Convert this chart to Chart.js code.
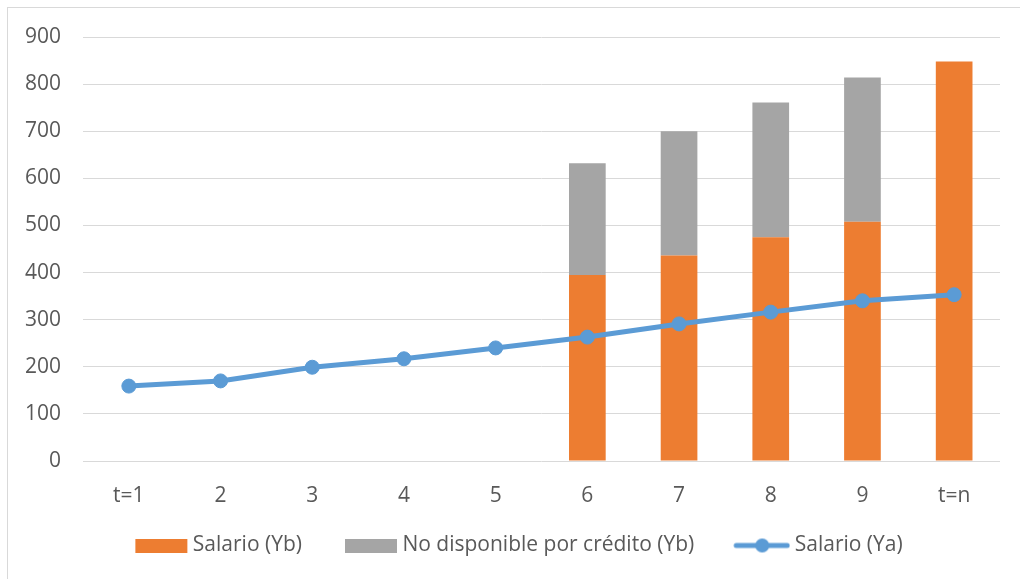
<!DOCTYPE html>
<html>
<head>
<meta charset="utf-8">
<script src="https://cdn.jsdelivr.net/npm/chart.js@4.4.1/dist/chart.umd.min.js"></script>
<style>
  body { margin: 0; background: #fff; }
  #wrap { position: relative; width: 1020px; height: 579px; }
  #frame { position: absolute; left: 7px; top: 7px; width: 1020px; height: 580px;
           border: 1px solid #d9d9d9; pointer-events: none; }
</style>
</head>
<body>
<div id="wrap">
  <canvas id="salarioChart"></canvas>
  <div id="frame"></div>
</div>
<script>
/*--Data--*/
var categories = ['t=1', '2', '3', '4', '5', '6', '7', '8', '9', 't=n'];
var salarioYb = [null, null, null, null, null, 395, 436, 475, 508, 848];
var noDisponible = [null, null, null, null, null, 237, 264, 286, 306, null];
var salarioYa = [159, 170, 199, 217, 240, 263, 291, 316, 340, 353];
var yTicks = [0, 100, 200, 300, 400, 500, 600, 700, 800, 900];
/*--------*/

var orange = '#ED7D31';
var gray = '#A5A5A5';
var blue = '#5B9BD5';
var textColor = '#595959';
var gridColor = '#D9D9D9';

// legend swatches drawn as small canvases (swatch pushed right, close to the text)
function boxSwatch(color) {
  var c = document.createElement('canvas');
  c.width = 72; c.height = 14;
  var ctx = c.getContext('2d');
  ctx.fillStyle = color;
  ctx.fillRect(19, 0, 52, 14);
  return c;
}
function lineSwatch(color) {
  var c = document.createElement('canvas');
  c.width = 72; c.height = 16;
  var ctx = c.getContext('2d');
  ctx.strokeStyle = color;
  ctx.lineWidth = 5;
  ctx.lineCap = 'round';
  ctx.beginPath();
  ctx.moveTo(18, 8);
  ctx.lineTo(69, 8);
  ctx.stroke();
  ctx.fillStyle = color;
  ctx.beginPath();
  ctx.arc(44, 8, 7, 0, 2 * Math.PI);
  ctx.fill();
  return c;
}

var chart = new Chart('salarioChart', {
  type: 'bar',
  data: {
    labels: categories,
    datasets: [
      {
        label: 'Salario (Yb)',
        data: salarioYb,
        backgroundColor: orange,
        stack: 's1',
        order: 1,
        categoryPercentage: 0.8,
        barPercentage: 0.5
      },
      {
        label: 'No disponible por crédito (Yb)',
        data: noDisponible,
        backgroundColor: gray,
        stack: 's1',
        order: 1,
        categoryPercentage: 0.8,
        barPercentage: 0.5
      },
      {
        type: 'line',
        label: 'Salario (Ya)',
        data: salarioYa,
        borderColor: blue,
        backgroundColor: blue,
        borderWidth: 5,
        pointRadius: 7,
        pointBorderWidth: 1,
        pointBackgroundColor: blue,
        pointBorderColor: blue,
        tension: 0,
        order: 0
      }
    ]
  },
  options: {
    responsive: true,
    maintainAspectRatio: false,
    animation: false,
    layout: { padding: { left: 25, right: 20, top: 37, bottom: 13 } },
    scales: {
      x: {
        stacked: true,
        grid: { display: false },
        border: { display: false },
        ticks: { color: textColor, padding: 14, font: { family: 'Open Sans', size: 21 } },
        afterFit: function (s) { s.height = 44; }
      },
      y: {
        stacked: true,
        min: 0,
        max: 900,
        afterBuildTicks: function (s) { s.ticks = yTicks.map(function (v) { return { value: v }; }); },
        grid: { color: gridColor, lineWidth: 1, drawTicks: false },
        border: { display: false },
        ticks: { color: textColor, padding: 22, font: { family: 'Open Sans', size: 21 } },
        afterFit: function (s) { s.width = 58; }
      }
    },
    plugins: {
      tooltip: { enabled: false },
      legend: {
        position: 'bottom',
        labels: {
          color: textColor,
          font: { family: 'Open Sans', size: 21 },
          usePointStyle: true,
          pointStyleWidth: 60,
          boxHeight: 14,
          padding: 30,
          generateLabels: function (ch) {
            var swatches = [boxSwatch(orange), boxSwatch(gray), lineSwatch(blue)];
            return ch.data.datasets.map(function (ds, i) {
              return {
                text: ds.label,
                fillStyle: ds.backgroundColor,
                strokeStyle: ds.backgroundColor,
                lineWidth: 0,
                pointStyle: swatches[i],
                hidden: false,
                datasetIndex: i,
                fontColor: textColor
              };
            });
          }
        }
      }
    }
  }
});
</script>
</body>
</html>
